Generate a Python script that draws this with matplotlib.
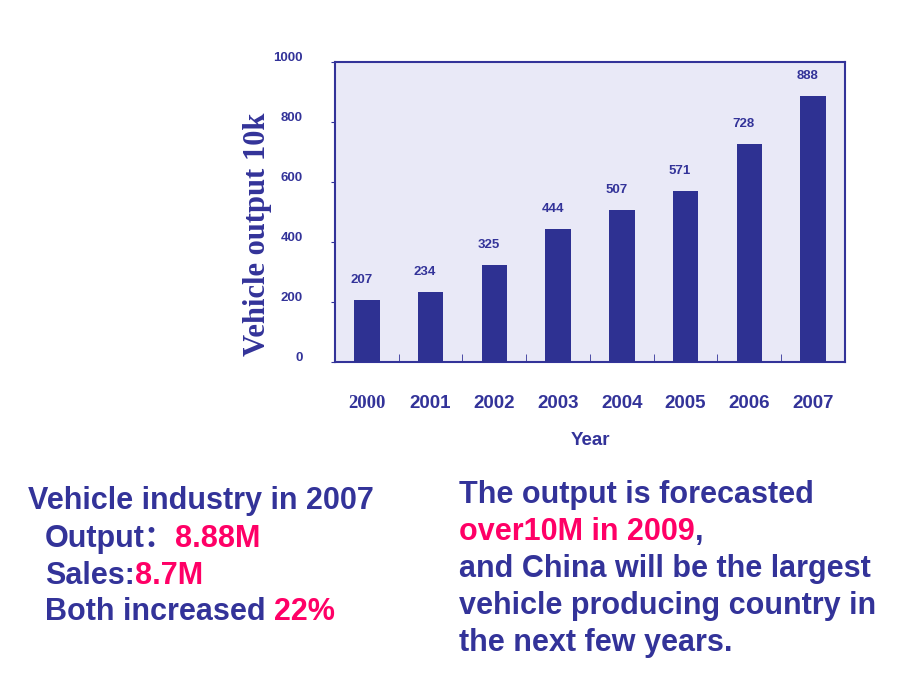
import matplotlib
matplotlib.use("Agg")
import matplotlib.pyplot as plt
import matplotlib.transforms as mtransforms

years = ['2000', '2001', '2002', '2003', '2004', '2005', '2006', '2007']
output = [207, 234, 325, 444, 507, 571, 728, 888]
yticks = [0, 200, 400, 600, 800, 1000]

navy = '#333399'
bar_color = '#2e3192'
pink = '#ff0066'
sans = ['Liberation Sans', 'Noto Sans CJK SC', 'DejaVu Sans']
serif = 'Liberation Serif'

fig = plt.figure(figsize=(9.2, 6.9), dpi=100)
ax = fig.add_axes([335 / 920, 1 - 362 / 690, 510 / 920, 300 / 690])
ax.set_facecolor('#e9e9f7')

x = list(range(len(years)))
ax.bar(x, output, width=0.4, color=bar_color, zorder=3)
for xi, v in zip(x, output):
    ax.annotate(str(v), (xi, v), xytext=(-4, 14), textcoords='offset points',
                ha='center', va='center', fontsize=9.5, fontweight='bold',
                color=navy, family=sans)

ax.set_xlim(-0.5, len(years) - 0.5)
ax.set_ylim(0, 1000)
for s in ax.spines.values():
    s.set_color(navy)
    s.set_linewidth(1.5)

ax.set_yticks(yticks)
ax.set_yticklabels([str(t) for t in yticks], fontsize=9.5, fontweight='bold',
                   color=navy, family=sans)
ax.tick_params(axis='y', direction='out', length=3, color=navy, pad=20)
shift = mtransforms.ScaledTranslation(0, 4 / 72, fig.dpi_scale_trans)
for lab in ax.get_yticklabels():
    lab.set_transform(lab.get_transform() + shift)

ax.set_xticks(x)
ax.set_xticklabels(years, fontsize=13.5, fontweight='bold', color=navy, family=sans)
ax.get_xticklabels()[0].set_family(serif)
ax.tick_params(axis='x', length=0, pad=24)
ax.set_xticks([i + 0.5 for i in x[:-1]], minor=True)
ax.tick_params(axis='x', which='minor', direction='in', length=6, color=navy)

ax.set_xlabel('Year', fontsize=13.5, fontweight='bold', color=navy,
              family=sans, labelpad=14)
fig.text(258 / 920, 1 - 234 / 690, 'Vehicle output 10k', rotation=90,
         ha='center', va='center', fontsize=22, fontweight='bold',
         color=navy, family=serif)

renderer = fig.canvas.get_renderer()


def write_line(x0, y0, parts, size=22):
    xp = x0
    for txt, col in parts:
        t = fig.text(xp / 920, 1 - y0 / 690, txt, ha='left', va='baseline',
                     fontsize=size, fontweight='bold', color=col, family=sans)
        bb = t.get_window_extent(renderer)
        xp = bb.x1


left_lines = [
    (28, 509, [('Vehicle industry in 2007', navy)]),
    (45, 547, [('Output：', navy), ('8.88M', pink)]),
    (45, 584, [('Sales:', navy), ('8.7M', pink)]),
    (45, 620, [('Both increased ', navy), ('22%', pink)]),
]
right_lines = [
    (459, 503, [('The output is forecasted', navy)]),
    (459, 540, [('over10M in 2009', pink), (',', navy)]),
    (459, 577, [('and China will be the largest', navy)]),
    (459, 614, [('vehicle producing country in', navy)]),
    (459, 651, [('the next few years.', navy)]),
]
for x0, y0, parts in left_lines + right_lines:
    write_line(x0, y0, parts)

fig.savefig('out.png', dpi=100)
